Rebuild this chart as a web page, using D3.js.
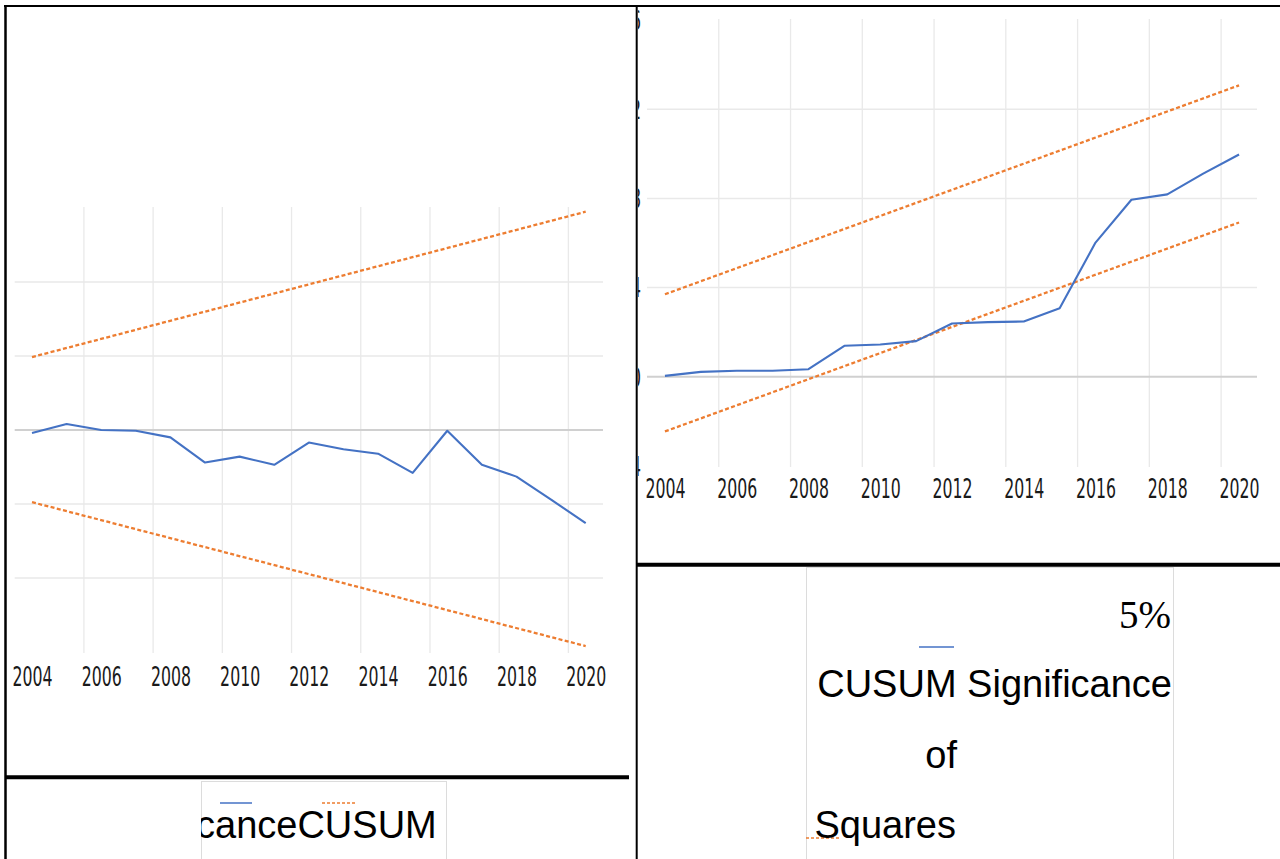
<!DOCTYPE html>
<html>
<head>
<meta charset="utf-8">
<script src="https://cdn.jsdelivr.net/npm/d3@7"></script>
<style>
    body { margin: 0; background: #fff; }
    .tickLabels text { font-family: "Liberation Sans Narrow", "DejaVu Sans Condensed", sans-serif; font-size: 17.5px; fill: #1a1a1a; }
    .legendText { font-family: "Liberation Sans", Arial, sans-serif; font-size: 38px; fill: #000; }
    .serifText { font-family: "Liberation Serif", "Times New Roman", serif; font-size: 39px; fill: #000; }
</style>
</head>
<body>
<script>
//wrap everything in a self-executing anonymous function
(function(){

    //years on the category axis
    var years = [2004, 2005, 2006, 2007, 2008, 2009, 2010, 2011, 2012, 2013, 2014, 2015, 2016, 2017, 2018, 2019, 2020];
    var yearLabels = [2004, 2006, 2008, 2010, 2012, 2014, 2016, 2018, 2020];
    var gridYears = [2005.5, 2007.5, 2009.5, 2011.5, 2013.5, 2015.5, 2017.5, 2019.5];

    //CUSUM statistic and its 5% bounds (bounds are straight lines, start and end)
    var cusum = [-0.4, 0.8, 0.0, -0.1, -1.0, -4.4, -3.6, -4.7, -1.7, -2.6, -3.2, -5.8, -0.1, -4.7, -6.3, -9.4, -12.6];
    var cusumUpper = [9.85, 29.5];
    var cusumLower = [-9.75, -29.2];
    var cusumGrid = [-20, -10, 0, 10, 20];

    //CUSUM of squares statistic and its 5% bounds
    var cusumSq = [0.004, 0.022, 0.027, 0.027, 0.034, 0.139, 0.145, 0.160, 0.239, 0.245, 0.248, 0.307, 0.602, 0.794, 0.818, 0.911, 0.997];
    var cusumSqUpper = [0.370, 1.307];
    var cusumSqLower = [-0.245, 0.692];
    var cusumSqGrid = [0, 0.4, 0.8, 1.2];
    var cusumSqTicks = [-0.4, 0, 0.4, 0.8, 1.2, 1.6];

    var blue = "#4472C4",
        orange = "#ED7D31";

    var svg = d3.select("body")
        .append("svg")
        .attr("width", 1280)
        .attr("height", 859);

    var defs = svg.append("defs");

    setChart({
        id: "left",
        clip: [7, 6, 629, 770],
        xRange: [14.7, 603],
        yDomain: [-30, 30],
        yRange: [652, 208],
        grid: cusumGrid,
        values: cusum,
        upper: cusumUpper,
        lower: cusumLower,
        labelY: 676,
        yTicks: null
    });

    setChart({
        id: "right",
        clip: [638, 7, 642, 556],
        xRange: [647, 1257],
        yDomain: [-0.4, 1.6],
        yRange: [466, 20],
        grid: cusumSqGrid,
        values: cusumSq,
        upper: cusumSqUpper,
        lower: cusumSqLower,
        labelY: 488,
        yTicks: cusumSqTicks
    });

    setLegends();
    setFrames();

    //draw one cusum chart
    function setChart(c){
        defs.append("clipPath")
            .attr("id", "clip-" + c.id)
            .append("rect")
            .attr("x", c.clip[0])
            .attr("y", c.clip[1])
            .attr("width", c.clip[2])
            .attr("height", c.clip[3]);

        var g = svg.append("g").attr("clip-path", "url(#clip-" + c.id + ")");

        var x = d3.scaleLinear()
            .domain([2003.5, 2020.5])
            .range(c.xRange);

        var y = d3.scaleLinear()
            .domain(c.yDomain)
            .range(c.yRange);

        //vertical gridlines between categories
        g.selectAll(".vGrid")
            .data(gridYears)
            .enter()
            .append("line")
            .attr("x1", function(d){ return x(d); })
            .attr("x2", function(d){ return x(d); })
            .attr("y1", y(c.yDomain[1]) - 1)
            .attr("y2", y(c.yDomain[0]) + 1)
            .attr("stroke", "#e9e9e9")
            .attr("stroke-width", 1.3);

        //horizontal gridlines, zero line a bit darker
        g.selectAll(".hGrid")
            .data(c.grid)
            .enter()
            .append("line")
            .attr("x1", x(2003.5))
            .attr("x2", x(2020.5))
            .attr("y1", function(d){ return y(d); })
            .attr("y2", function(d){ return y(d); })
            .attr("stroke", function(d){ return d === 0 ? "#d0d0d0" : "#e9e9e9"; })
            .attr("stroke-width", function(d){ return d === 0 ? 2 : 1.5; });

        //boundary lines
        var ends = [years[0], years[years.length - 1]];
        var bound = d3.line()
            .x(function(d, i){ return x(ends[i]); })
            .y(function(d){ return y(d); });

        [c.upper, c.lower].forEach(function(b){
            g.append("path")
                .datum(b)
                .attr("d", bound)
                .attr("fill", "none")
                .attr("stroke", orange)
                .attr("stroke-width", 2.3)
                .attr("stroke-dasharray", "4,2.4");
        });

        //statistic line
        var line = d3.line()
            .x(function(d, i){ return x(years[i]); })
            .y(function(d){ return y(d); });

        g.append("path")
            .datum(c.values)
            .attr("d", line)
            .attr("fill", "none")
            .attr("stroke", blue)
            .attr("stroke-width", 2.1)
            .attr("stroke-linejoin", "round");

        //year labels
        var xAxis = d3.axisBottom(x)
            .tickValues(yearLabels)
            .tickSize(0)
            .tickFormat(d3.format("d"));

        var xg = g.append("g")
            .attr("class", "tickLabels")
            .attr("transform", "translate(0," + c.labelY + ")")
            .call(xAxis);
        xg.select(".domain").remove();
        xg.selectAll("text")
            .attr("y", 0)
            .attr("dy", "0.36em")
            .attr("transform", "scale(1,1.55)");

        //value labels (mostly hidden behind the neighbouring panel)
        if (c.yTicks){
            var yAxis = d3.axisLeft(y)
                .tickValues(c.yTicks)
                .tickSize(0)
                .tickPadding(0)
                .tickFormat(d3.format(".1f"));
            var yg = g.append("g")
                .attr("class", "tickLabels")
                .attr("transform", "translate(641,0)")
                .call(yAxis);
            yg.select(".domain").remove();
            yg.selectAll("text")
                .attr("transform", "scale(1,1.55)")
                .attr("dy", "0.36em")
                .attr("y", 0);
            yg.selectAll(".tick")
                .attr("transform", function(d){ return "translate(0," + y(d) + ")"; });
        }
    };

    //legend boxes under each chart
    function setLegends(){
        defs.append("clipPath")
            .attr("id", "clip-legL")
            .append("rect")
            .attr("x", 201).attr("y", 781).attr("width", 246).attr("height", 80);

        var lg = svg.append("g").attr("clip-path", "url(#clip-legL)");
        lg.append("rect")
            .attr("x", 201.5).attr("y", 781.5).attr("width", 245).attr("height", 100)
            .attr("fill", "none").attr("stroke", "#dcdcdc");
        lg.append("line")
            .attr("x1", 220).attr("x2", 252).attr("y1", 803).attr("y2", 803)
            .attr("stroke", blue).attr("stroke-width", 1.5);
        lg.append("line")
            .attr("x1", 322).attr("x2", 355).attr("y1", 803).attr("y2", 803)
            .attr("stroke", orange).attr("stroke-width", 1.5).attr("stroke-dasharray", "3,2");
        lg.append("text")
            .attr("class", "legendText")
            .attr("x", 196).attr("y", 838)
            .text("canceCUSUM");

        var rg = svg.append("g");
        rg.append("rect")
            .attr("x", 806.5).attr("y", 567.5).attr("width", 367).attr("height", 320)
            .attr("fill", "none").attr("stroke", "#dcdcdc");
        rg.append("text")
            .attr("class", "serifText")
            .attr("text-anchor", "end")
            .attr("x", 1171).attr("y", 628)
            .text("5%");
        rg.append("line")
            .attr("x1", 919).attr("x2", 954).attr("y1", 647).attr("y2", 647)
            .attr("stroke", blue).attr("stroke-width", 1.5);
        rg.append("text")
            .attr("class", "legendText")
            .attr("text-anchor", "end")
            .attr("x", 1172).attr("y", 697)
            .text("CUSUM Significance");
        rg.append("text")
            .attr("class", "legendText")
            .attr("text-anchor", "end")
            .attr("x", 957).attr("y", 768)
            .text("of");
        rg.append("line")
            .attr("x1", 806).attr("x2", 841).attr("y1", 838).attr("y2", 838)
            .attr("stroke", orange).attr("stroke-width", 1.5).attr("stroke-dasharray", "3,2");
        rg.append("text")
            .attr("class", "legendText")
            .attr("text-anchor", "end")
            .attr("x", 956).attr("y", 838)
            .text("Squares");
    };

    //black frame lines of the two panels
    function setFrames(){
        var f = svg.append("g").attr("stroke", "#000");
        f.append("line").attr("x1", 4).attr("x2", 1280).attr("y1", 6).attr("y2", 6).attr("stroke-width", 2);
        f.append("line").attr("x1", 5.5).attr("x2", 5.5).attr("y1", 5).attr("y2", 859).attr("stroke-width", 2.5);
        f.append("line").attr("x1", 636.7).attr("x2", 636.7).attr("y1", 5).attr("y2", 859).attr("stroke-width", 2);
        f.append("line").attr("x1", 5).attr("x2", 629).attr("y1", 777.3).attr("y2", 777.3).attr("stroke-width", 4);
        f.append("line").attr("x1", 637).attr("x2", 1280).attr("y1", 564.7).attr("y2", 564.7).attr("stroke-width", 4);
    };

})();
</script>
</body>
</html>
